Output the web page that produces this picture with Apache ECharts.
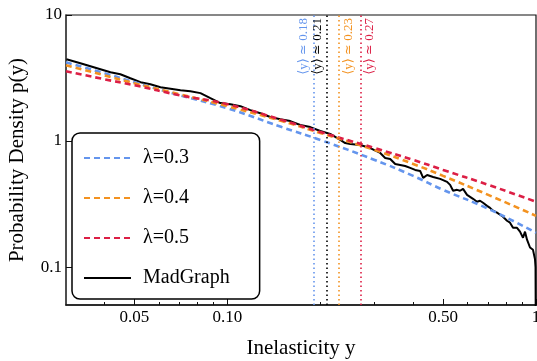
<!DOCTYPE html>
<html>
<head>
<meta charset="utf-8">
<script src="https://cdn.jsdelivr.net/npm/echarts@6/dist/echarts.min.js"></script>
<style>html,body{margin:0;padding:0;background:#fff}#c{width:537px;height:361px}</style>
</head>
<body>
<div id="c"></div>
<script>
// ---- data ----
const xTheory = [0.03, 0.04, 0.05, 0.07, 0.1, 0.15, 0.2, 0.3, 0.4, 0.5, 0.7, 1.0];
const lam03 = [4.21, 3.45, 2.93, 2.31, 1.82, 1.29, 1.02, 0.708, 0.529, 0.410, 0.290, 0.187];
const lam04 = [3.99, 3.32, 2.87, 2.35, 1.89, 1.44, 1.16, 0.849, 0.658, 0.529, 0.374, 0.255];
const lam05 = [3.58, 3.09, 2.77, 2.31, 1.96, 1.47, 1.18, 0.880, 0.708, 0.590, 0.449, 0.330];

const madX = [0.0301,0.0334,0.0418,0.0450,0.0485,0.0523,0.0563,0.0607,0.0705,0.0759,0.0818,0.0881,0.0949,0.1023,0.1102,0.1187,0.1279,0.1378,0.1484,0.1599,0.1723,0.1856,0.2000,0.2154,0.2321,0.2409,0.2501,0.2694,0.2903,0.3128,0.3246,0.3370,0.3498,0.3630,0.3768,0.3911,0.4059,0.4213,0.4309,0.4439,0.4642,0.4892,0.5152,0.5269,0.5387,0.5550,0.5675,0.5803,0.5978,0.6114,0.6252,0.6442,0.6587,0.6736,0.6940,0.7097,0.7257,0.7477,0.7646,0.7819,0.8055,0.8238,0.8424,0.8679,0.8875,0.9076,0.9213,0.9352,0.9563,0.9779,0.9926,0.9965,0.9985];
const madP = [4.45,4.14,3.51,3.39,3.15,2.93,2.82,2.67,2.53,2.48,2.40,2.19,2.00,1.96,1.89,1.76,1.66,1.55,1.49,1.44,1.34,1.29,1.20,1.14,1.02,0.964,0.947,0.930,0.880,0.804,0.734,0.721,0.658,0.646,0.634,0.612,0.590,0.579,0.510,0.538,0.519,0.501,0.474,0.449,0.403,0.410,0.403,0.417,0.374,0.361,0.348,0.330,0.336,0.324,0.306,0.295,0.280,0.270,0.260,0.251,0.233,0.225,0.205,0.205,0.191,0.171,0.191,0.165,0.143,0.137,0.115,0.100,0.030];

const meanY = [0.186, 0.206, 0.229, 0.269];
const meanLabels = ['⟨y⟩ ≃ 0.18', '⟨y⟩ ≃ 0.21', '⟨y⟩ ≃ 0.23', '⟨y⟩ ≃ 0.27'];

const seriesNames = ['λ=0.3', 'λ=0.4', 'λ=0.5', 'MadGraph'];
const xTickValues = [0.05, 0.1, 0.5, 1];
const xTickLabels = ['0.05', '0.10', '0.50', '1'];
const xMinorTicks = [0.04, 0.06, 0.07, 0.08, 0.09, 0.2, 0.3, 0.4, 0.6, 0.7, 0.8, 0.9];
const yTickValues = [0.1, 1, 10];
const yTickLabels = ['0.1', '1', '10'];

// ---- chart ----
const FONT = "'Liberation Serif','DejaVu Serif',serif";
const BLUE = '#6495ED', ORANGE = '#F39220', RED = '#DC1F45', BLACK = '#000';
const zip = (xs, ys) => xs.map((x, i) => [x, ys[i]]);

function vline(val, label, color, pos) {
  return {
    silent: true,
    symbol: ['none', 'none'],
    animation: false,
    lineStyle: { color: color, type: [1.5, 3], width: 1.6 },
    label: {
      show: true, position: pos, formatter: label, color: color,
      fontFamily: FONT, fontSize: 13, distance: [3, 3]
    },
    data: [{ xAxis: val }]
  };
}

const chart = echarts.init(document.getElementById('c'), null, { renderer: 'canvas' });
const tickX = {};
xTickValues.forEach((v, i) => tickX[v] = xTickLabels[i]);
const tickY = {};
yTickValues.forEach((v, i) => tickY[v] = yTickLabels[i]);

chart.setOption({
  animation: false,
  backgroundColor: '#fff',
  grid: { left: 66, right: 1, top: 15, bottom: 56, show: true, borderColor: '#111', borderWidth: 1.2,
    containLabel: false, outerBoundsMode: 'none' },
  legend: {
    data: seriesNames,
    orient: 'vertical',
    left: 72, top: 133,
    padding: [15, 30, 11, 11],
    itemGap: 20,
    itemWidth: 47, itemHeight: 14,
    backgroundColor: '#fff',
    borderColor: '#000', borderWidth: 1.5, borderRadius: 8,
    itemStyle: { opacity: 0 },
    textStyle: { fontFamily: FONT, fontSize: 20, color: '#000', lineHeight: 20, padding: [0, 0, 0, 7] },
    z: 10
  },
  xAxis: [{
    type: 'log', logBase: 10, min: 0.03, max: 1,
    name: 'Inelasticity y', nameLocation: 'middle', nameGap: 33,
    nameTextStyle: { fontFamily: FONT, fontSize: 21, color: '#000' },
    axisLine: { lineStyle: { color: '#111', width: 1.5 } },
    axisTick: { inside: true, length: 6, customValues: xTickValues, lineStyle: { color: '#111' } },
    axisLabel: { customValues: xTickValues, fontFamily: FONT, fontSize: 17, color: '#000', margin: 4,
      formatter: v => tickX[v] !== undefined ? tickX[v] : String(+v.toFixed(2)) },
    splitLine: { show: false }, minorTick: { show: false }
  }, {
    type: 'log', logBase: 10, min: 0.03, max: 1, position: 'bottom',
    axisLine: { show: false },
    axisTick: { inside: true, length: 3, customValues: xMinorTicks, lineStyle: { color: '#111' } },
    axisLabel: { show: false },
    splitLine: { show: false }
  }],
  yAxis: {
    type: 'log', logBase: 10, min: 0.05, max: 10,
    name: 'Probability Density p(y)', nameLocation: 'middle', nameGap: 38,
    nameTextStyle: { fontFamily: FONT, fontSize: 21, color: '#000' },
    axisLine: { show: true, lineStyle: { color: '#444', width: 1.5 } },
    axisTick: { inside: true, length: 6, customValues: yTickValues, lineStyle: { color: '#111' } },
    axisLabel: { customValues: yTickValues, fontFamily: FONT, fontSize: 17, color: '#000', margin: 4,
      formatter: v => tickY[v] !== undefined ? tickY[v] : String(v) },
    splitLine: { show: false }
  },
  series: [
    {
      name: seriesNames[3], type: 'line', data: zip(madX, madP), showSymbol: false, symbol: 'none',
      lineStyle: { color: BLACK, width: 2 }, itemStyle: { color: BLACK }, z: 2,
      markLine: vline(meanY[1], meanLabels[1], BLACK, 'insideEndTop')
    },
    {
      name: seriesNames[0], type: 'line', data: zip(xTheory, lam03), smooth: true, showSymbol: false, symbol: 'none',
      lineStyle: { color: BLUE, width: 2.6, type: [6, 4] }, itemStyle: { color: BLUE }, z: 3,
      markLine: vline(meanY[0], meanLabels[0], BLUE, 'insideEndTop')
    },
    {
      name: seriesNames[1], type: 'line', data: zip(xTheory, lam04), smooth: true, showSymbol: false, symbol: 'none',
      lineStyle: { color: ORANGE, width: 2.6, type: [6, 4] }, itemStyle: { color: ORANGE }, z: 3,
      markLine: vline(meanY[2], meanLabels[2], ORANGE, 'insideEndBottom')
    },
    {
      name: seriesNames[2], type: 'line', data: zip(xTheory, lam05), smooth: true, showSymbol: false, symbol: 'none',
      lineStyle: { color: RED, width: 2.6, type: [6, 4] }, itemStyle: { color: RED }, z: 3,
      markLine: vline(meanY[3], meanLabels[3], RED, 'insideEndBottom')
    }
  ]
});
</script>
</body>
</html>
